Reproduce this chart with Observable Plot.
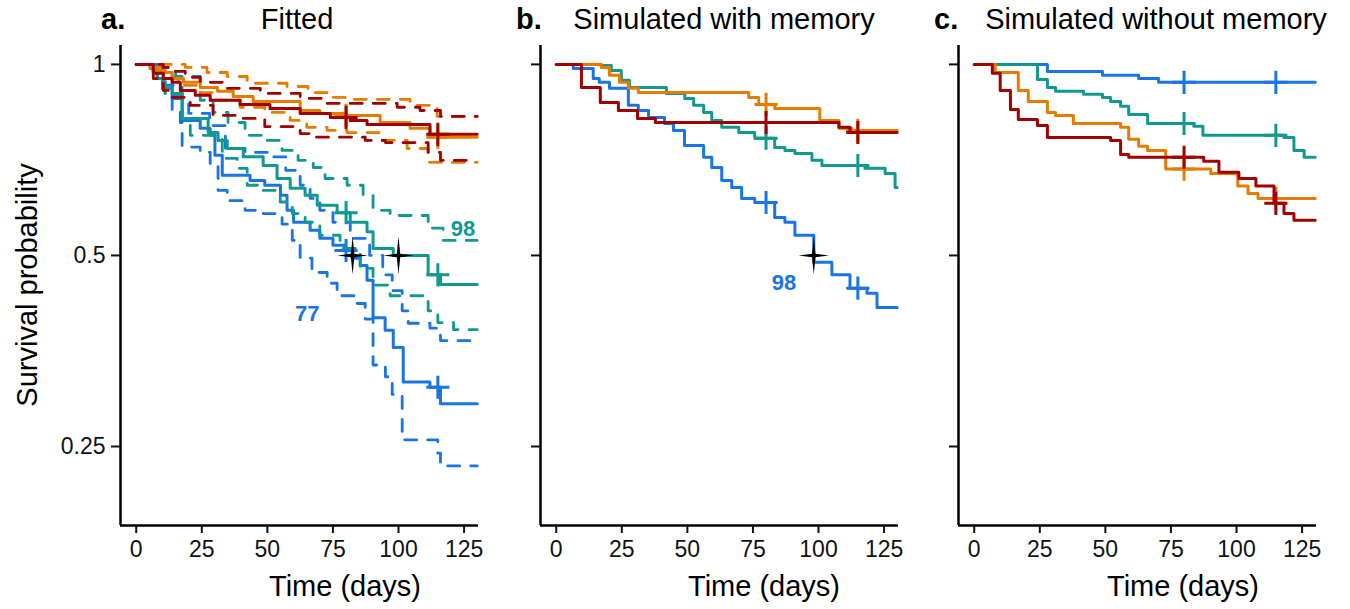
<!DOCTYPE html>
<html>
<head>
<meta charset="utf-8">
<script src="https://cdn.jsdelivr.net/npm/d3@7"></script>
<script src="https://cdn.jsdelivr.net/npm/@observablehq/plot@0.6"></script>
<style>
  html, body { margin: 0; padding: 0; background: #fff; }
  body { width: 1350px; height: 609px; position: relative; overflow: hidden;
         font-family: "Liberation Sans", Arial, sans-serif; color: #000; }
  .panel { position: absolute; top: 0; }
  .txt { position: absolute; white-space: nowrap; line-height: 1; }
  .tag { font-weight: bold; font-size: 29px; }
  .title { font-size: 29px; transform: translateX(-50%); }
  .xlab { font-size: 29px; transform: translateX(-50%); }
  .ylab { font-size: 29px; transform: translate(-50%, -50%) rotate(-90deg); }
</style>
</head>
<body>
<div id="pa" class="panel" style="left:0px"></div>
<div id="pb" class="panel" style="left:420px"></div>
<div id="pc" class="panel" style="left:838px"></div>

<div class="txt tag" style="left:101px; top:5px">a.</div>
<div class="txt title" style="left:297px; top:5px">Fitted</div>
<div class="txt tag" style="left:516px; top:5px">b.</div>
<div class="txt title" style="left:724px; top:5px">Simulated with memory</div>
<div class="txt tag" style="left:934px; top:5px">c.</div>
<div class="txt title" style="left:1156px; top:5px">Simulated without memory</div>

<div class="txt xlab" style="left:345px; top:572px">Time (days)</div>
<div class="txt xlab" style="left:764px; top:572px">Time (days)</div>
<div class="txt xlab" style="left:1183px; top:572px">Time (days)</div>
<div class="txt ylab" style="left:27px; top:285px">Survival probability</div>

<script>
// ---------- data (time in days, survival probability) ----------
const xTicks = [0, 25, 50, 75, 100, 125];
const yTicks = [0.25, 0.5, 1];
const censorTimes = [80, 115];
const END = 130;

// Panel a: Fitted (solid estimate + dashed confidence bounds)
const aBlue   = [[0,1],[8,0.971],[10.3,0.927],[13.7,0.884],[17.5,0.816],[24.4,0.793],[28.2,0.773],[30,0.719],[32.8,0.669],[43.4,0.656],[49,0.645],[55,0.622],[57.5,0.589],[60,0.564],[66.3,0.548],[70,0.532],[75,0.519],[79.6,0.509],[82.3,0.495],[85.4,0.482],[88,0.457],[90.3,0.399],[94.9,0.381],[98,0.358],[101.8,0.316],[112,0.31],[116,0.292]];
const aBlueHi = [[0,1],[10,0.978],[13.7,0.927],[17.5,0.878],[20,0.837],[28,0.801],[34,0.737],[41.5,0.727],[51,0.715],[57,0.681],[62.5,0.645],[66.3,0.615],[70,0.589],[75,0.564],[81.6,0.532],[89,0.5],[94,0.466],[97.6,0.44],[101.4,0.409],[103.7,0.391],[112,0.384],[116,0.367]];
const aBlueLo = [[0,1],[8,0.944],[11,0.894],[13.7,0.846],[16.8,0.81],[17.5,0.741],[24.4,0.727],[28.2,0.693],[31.2,0.633],[34.7,0.61],[41.5,0.589],[48.4,0.582],[55.6,0.56],[59.5,0.528],[62.5,0.495],[67,0.47],[72.8,0.452],[76.6,0.432],[83.5,0.42],[87.3,0.397],[90.3,0.336],[95,0.322],[97.6,0.302],[101.4,0.256],[115,0.244],[116,0.233]];
const aTeal   = [[0,1],[5.3,0.985],[8,0.95],[10,0.917],[13.7,0.9],[17.5,0.822],[27.4,0.781],[31.2,0.759],[34.7,0.737],[40.8,0.715],[48.4,0.693],[53.7,0.661],[58.7,0.638],[64.4,0.622],[69,0.6],[76.6,0.584],[81.6,0.564],[88,0.545],[90.3,0.513],[98,0.5],[111.3,0.466],[116,0.45]];
const aTealHi = [[0,1],[8,0.989],[15,0.957],[24.4,0.878],[29.3,0.84],[35,0.81],[41.5,0.773],[48,0.759],[55.6,0.732],[61.7,0.706],[67.5,0.688],[72,0.661],[80.4,0.645],[86.5,0.622],[90.3,0.589],[96.8,0.578],[111.3,0.552],[117,0.528]];
const aTealLo = [[0,1],[8,0.95],[11,0.894],[17.5,0.822],[20.6,0.773],[32.8,0.711],[38.5,0.686],[42.3,0.645],[48,0.633],[54.9,0.607],[59.5,0.582],[64.4,0.564],[70,0.538],[77.7,0.513],[85.4,0.477],[90.3,0.449],[96.8,0.432],[111.3,0.409],[115,0.392],[121,0.382]];
const aOrange   = [[0,1],[5.3,0.989],[9,0.971],[13.7,0.95],[18,0.937],[24.4,0.92],[31,0.907],[37,0.89],[44.6,0.874],[62.5,0.846],[70,0.837],[80,0.831],[93,0.81],[104.4,0.793],[112,0.768]];
const aOrangeHi = [[0,1],[18.7,0.989],[27,0.971],[34.7,0.957],[42.3,0.934],[57.5,0.923],[65.5,0.903],[74,0.887],[82.7,0.881],[104.4,0.862],[114.7,0.828]];
const aOrangeLo = [[0,1],[5.3,0.978],[11,0.95],[16,0.927],[24.4,0.903],[30,0.878],[39.6,0.856],[49,0.84],[58.7,0.816],[65,0.796],[72.8,0.787],[80.4,0.781],[93,0.759],[103.3,0.737],[111.3,0.701]];
const aRed   = [[0,1],[6.5,0.968],[10.3,0.95],[13.7,0.937],[16.8,0.91],[22.5,0.894],[28.2,0.878],[39.6,0.865],[51,0.852],[62.5,0.837],[74,0.825],[81.6,0.816],[88,0.804],[112,0.776]];
const aRedHi = [[0,1],[10.3,0.989],[13.7,0.975],[18.7,0.954],[24.4,0.937],[34,0.917],[47.3,0.9],[62.5,0.884],[72.8,0.868],[99.5,0.856],[108.2,0.846],[116,0.828]];
const aRedLo = [[0,1],[6.5,0.95],[10.3,0.91],[13.7,0.887],[20.6,0.862],[29.3,0.831],[39.6,0.822],[49,0.798],[62.5,0.778],[67.5,0.768],[87.3,0.759],[95,0.753],[111.3,0.727],[116,0.706]];
const aMedians = [[82.5, 0.5], [100, 0.5]];
const aLabels = [[124.6, 0.551, "98", "teal"], [65.2, 0.405, "77", "blue"]];

// Panel b: Simulated with memory
const bBlue   = [[0,1],[6.5,0.985],[14.1,0.95],[16.4,0.937],[20.3,0.917],[27.5,0.862],[31.3,0.846],[35.2,0.825],[41.3,0.807],[44.7,0.787],[48.9,0.745],[56.2,0.714],[59.3,0.688],[63.1,0.656],[66.9,0.64],[70.7,0.615],[75.7,0.606],[83.3,0.574],[87.2,0.564],[91,0.538],[98.2,0.488],[105.1,0.466],[112,0.444],[118.5,0.436],[122.3,0.414]];
const bTeal   = [[0,1],[17.2,0.996],[21,0.978],[24.8,0.944],[27.9,0.92],[42,0.9],[49,0.884],[52.4,0.862],[56.2,0.84],[59.3,0.816],[63.1,0.796],[69.6,0.781],[75.7,0.765],[83.3,0.74],[87.2,0.732],[91,0.724],[97.5,0.706],[101.3,0.693],[117.7,0.686],[125.4,0.673],[129.2,0.64]];
const bOrange = [[0,1],[17.2,0.989],[20.3,0.961],[24.1,0.937],[27.5,0.917],[31.3,0.903],[73.4,0.887],[77.2,0.865],[83.3,0.852],[100.5,0.816],[107.8,0.793],[112.8,0.787]];
const bRed    = [[0,1],[9.6,0.92],[16.8,0.871],[23.7,0.846],[31,0.822],[37.8,0.81],[107.8,0.796],[112,0.781]];
const bMedians = [[98.2, 0.5]];
const bLabels = [[86.8, 0.452, "98", "blue"]];

// Panel c: Simulated without memory
const cBlue   = [[0,1],[27.9,0.975],[48.9,0.961],[62.7,0.95],[70.3,0.937]];
const cTeal   = [[0,1],[24.1,0.947],[27.9,0.92],[31,0.907],[41.7,0.897],[48.9,0.887],[52,0.874],[55.8,0.859],[58.9,0.834],[66.1,0.807],[83.7,0.799],[87.2,0.773],[118.1,0.767],[121.9,0.732],[125.8,0.714]];
const cOrange = [[0,1],[8,0.971],[16.8,0.91],[20.6,0.874],[27.9,0.84],[31,0.831],[37.8,0.807],[55.8,0.796],[58.9,0.762],[62.7,0.743],[66.1,0.732],[73,0.684],[90.2,0.673],[100.5,0.643],[104.4,0.626],[108.2,0.615]];
const cRed    = [[0,1],[6.9,0.968],[9.9,0.91],[13.8,0.849],[16.8,0.819],[24.1,0.801],[27.9,0.767],[52,0.759],[55.8,0.721],[58.9,0.714],[87.5,0.704],[93.3,0.676],[100.9,0.661],[107.4,0.643],[114.3,0.604],[118.1,0.582],[121.9,0.568]];

// ---------- styling ----------
const COLORS = { blue: "#1a74e3", teal: "#10998e", orange: "#e57c00", red: "#a00000" };
const X_DOMAIN = [-6, 130.5];
const Y_DOMAIN = [0.1877, 1.071];

const star4 = {
  draw(ctx, size) {
    const R = Math.sqrt(size / Math.PI);
    const rx = R * 0.8, w = R * 0.09;
    ctx.moveTo(0, -R);
    ctx.lineTo(w, -w);
    ctx.lineTo(rx, 0);
    ctx.lineTo(w, w);
    ctx.lineTo(0, R);
    ctx.lineTo(-w, w);
    ctx.lineTo(-rx, 0);
    ctx.lineTo(-w, -w);
    ctx.closePath();
  }
};

const withEnd = pts => [...pts, [END, pts[pts.length - 1][1]]];
const valueAt = (pts, t) => { let v = pts[0][1]; for (const [tt, s] of pts) if (tt <= t) v = s; return v; };

function panel({ curves, medians = [], labels = [], showYLabels }) {
  const marks = [
    Plot.ruleX([X_DOMAIN[0]], { stroke: "#000", strokeWidth: 2.5 }),
    Plot.ruleY([Y_DOMAIN[0]], { stroke: "#000", strokeWidth: 2.5 }),
    Plot.axisX({ ticks: xTicks, tickSize: 8, tickPadding: 7, strokeWidth: 2, label: null, fontSize: 23,
                 fill: "#111", tickFormat: d => String(d) }),
    Plot.axisY({ ticks: yTicks, tickSize: 9, tickPadding: 6, strokeWidth: 2, label: null, fontSize: 23,
                 fill: "#111", tickFormat: showYLabels ? (d => String(d)) : (() => "") })
  ];
  for (const c of curves) {
    const col = COLORS[c.color];
    for (const band of (c.bands || [])) {
      marks.push(Plot.line(withEnd(band), { x: d => d[0], y: d => d[1], curve: "step-after",
        stroke: col, strokeWidth: 2.8, strokeDasharray: "12,11" }));
    }
    marks.push(Plot.line(withEnd(c.pts), { x: d => d[0], y: d => d[1], curve: "step-after",
      stroke: col, strokeWidth: 3 }));
    marks.push(Plot.dot(censorTimes.map(t => [t, valueAt(c.pts, t)]), { x: d => d[0], y: d => d[1],
      symbol: "plus", r: 7.5, stroke: col, strokeWidth: 3, fill: "none" }));
  }
  marks.push(Plot.dot(medians, { x: d => d[0], y: d => d[1], symbol: star4, r: 19, fill: "#000", stroke: "none" }));
  marks.push(Plot.text(labels, { x: d => d[0], y: d => d[1], text: d => d[2], fill: d => COLORS[d[3]],
    fontWeight: "bold", fontSize: 22 }));
  return Plot.plot({
    width: 490, height: 609,
    marginLeft: 120, marginRight: 12, marginTop: 45, marginBottom: 84,
    style: { background: "transparent", fontFamily: "Liberation Sans, Arial, sans-serif", fontSize: "23px", color: "#111", overflow: "visible" },
    x: { domain: X_DOMAIN },
    y: { type: "log", domain: Y_DOMAIN },
    color: { type: "identity" },
    marks
  });
}

document.getElementById("pa").append(panel({
  showYLabels: true,
  curves: [
    { color: "blue", pts: aBlue, bands: [aBlueHi, aBlueLo] },
    { color: "teal", pts: aTeal, bands: [aTealHi, aTealLo] },
    { color: "orange", pts: aOrange, bands: [aOrangeHi, aOrangeLo] },
    { color: "red", pts: aRed, bands: [aRedHi, aRedLo] }
  ],
  medians: aMedians, labels: aLabels
}));
document.getElementById("pb").append(panel({
  showYLabels: false,
  curves: [
    { color: "blue", pts: bBlue },
    { color: "teal", pts: bTeal },
    { color: "orange", pts: bOrange },
    { color: "red", pts: bRed }
  ],
  medians: bMedians, labels: bLabels
}));
document.getElementById("pc").append(panel({
  showYLabels: false,
  curves: [
    { color: "blue", pts: cBlue },
    { color: "teal", pts: cTeal },
    { color: "orange", pts: cOrange },
    { color: "red", pts: cRed }
  ]
}));
</script>
</body>
</html>
